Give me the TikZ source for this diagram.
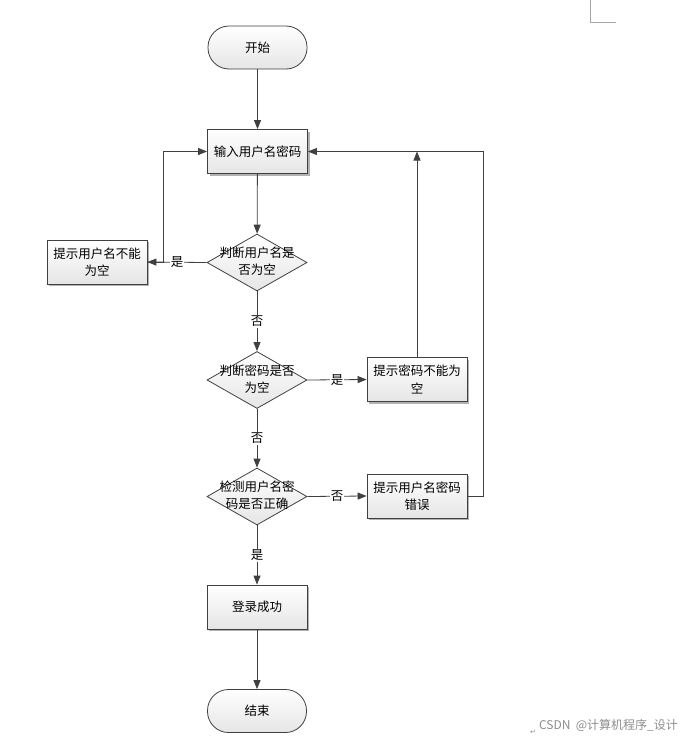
\documentclass[tikz,border=0pt]{standalone}
\usepackage{fontspec}
\setmainfont{Noto Sans CJK SC}
\newfontfamily\symfont{DejaVu Sans}
\usetikzlibrary{shapes.geometric,arrows.meta,shadows}
\tikzset{
  base/.style={draw=black!75, line width=0.8pt, top color=white, bottom color=black!10,
    inner sep=0pt, align=center, font=\fontsize{12.5}{17.5}\selectfont},
  startstop/.style={base, rectangle, rounded corners=21pt, minimum width=99pt, minimum height=43pt},
  process/.style={base, rectangle, minimum width=100pt, minimum height=44pt,
    drop shadow={shadow xshift=2pt, shadow yshift=-2pt, fill=black!30, opacity=1}},
  decision/.style={base, diamond, minimum width=100pt, minimum height=57pt},
  dtext/.style={inner sep=0pt, align=center, font=\fontsize{12.5}{17.5}\selectfont},
  flow/.style={draw=black!75, line width=0.8pt, -{Triangle[length=9pt,width=7pt]}},
  yesno/.style={fill=white, inner sep=1pt, font=\fontsize{12.5}{14}\selectfont},
}
\begin{document}
\begin{tikzpicture}[x=1pt,y=-1pt]
  \useasboundingbox (0,0) rectangle (686,739);
  % page corner and watermark
  \draw[black!35, line width=1pt] (590,0) -- (590,22) -- (616,22);
  \node[text=black!45, font=\fontsize{12}{14}\selectfont] (mark) at (608.5,725) {CSDN\ \ @计算机程序\_设计};
  \node[text=black!45, font=\symfont\fontsize{7}{8}\selectfont] (ret) at (533,732) {↵};

  % main column
  \node[startstop] (start) at (257.5,47.5) {开始};
  \node[process] (input) at (257.5,151.5) {输入用户名密码};
  \node[decision] (d1) at (257,262.5) {};
  \node[dtext] (d1t) at (257,261) {判断用户名是\\否为空};
  \node[decision] (d2) at (257,380) {};
  \node[dtext] (d2t) at (257,379) {判断密码是否\\为空};
  \node[decision] (d3) at (257,496.5) {};
  \node[dtext] (d3t) at (257,495) {检测用户名密\\码是否正确};
  \node[process] (ok) at (257,607) {登录成功};
  \node[startstop] (stop) at (257,711) {结束};

  % side boxes
  \node[process] (nouser) at (97,262) {提示用户名不能\\为空};
  \node[process] (nopass) at (417,379.5) {提示密码不能为\\空};
  \node[process] (wrong) at (417,496) {提示用户名密码\\错误};

  % connectors
  \draw[flow] (start) -- (input);
  \draw[flow] (input) -- (d1);
  \draw[flow] (d1) -- node[yesno] {否} (d2);
  \draw[flow] (d2) -- node[yesno] {否} (d3);
  \draw[flow] (d3) -- node[yesno] {是} (ok);
  \draw[flow] (ok) -- (stop);
  \draw[flow] (d1.west) -- node[yesno] {是} (nouser.east);
  \draw[flow] (d2.east) -- node[yesno] {是} (nopass.west);
  \draw[flow] (d3.east) -- node[yesno] {否} (wrong.west);
  \draw[flow] (nouser.east) -- ++(16,0) |- (input.west);
  \draw[flow] (nopass.north) -- (nopass.north |- input.east);
  \draw[flow] (wrong.east) -- ++(16,0) |- (input.east);
\end{tikzpicture}
\end{document}
